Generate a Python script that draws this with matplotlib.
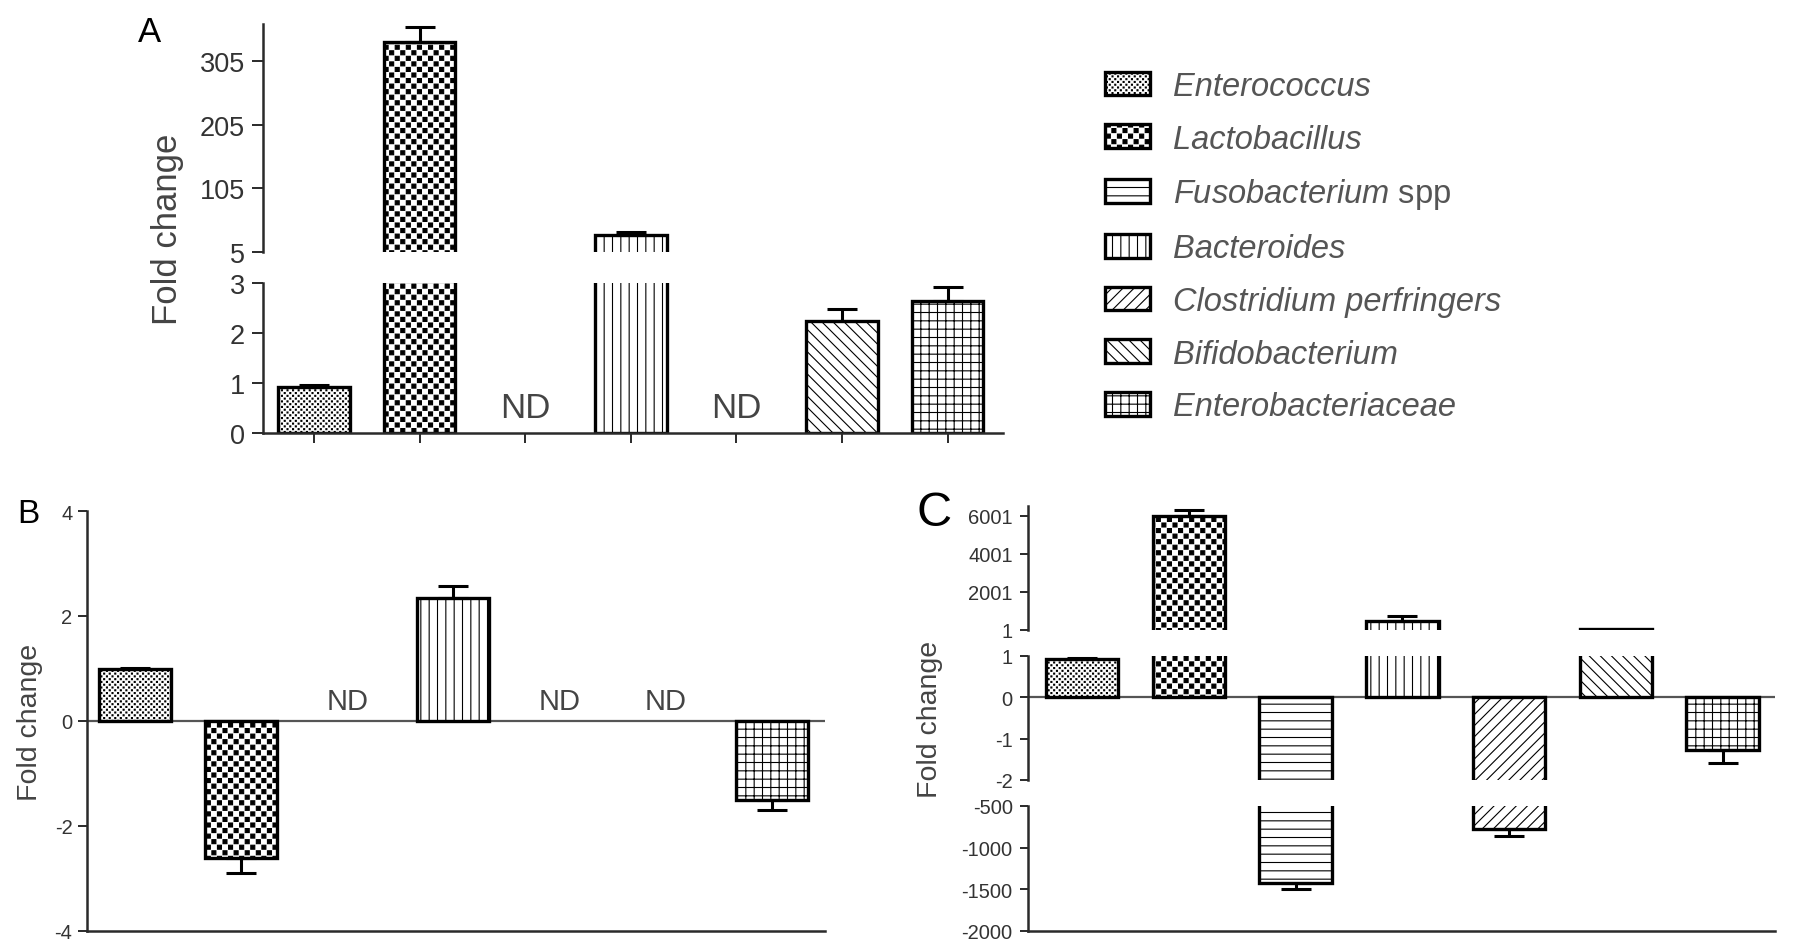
import numpy as np
import matplotlib
matplotlib.use("Agg")
import matplotlib.pyplot as plt
import matplotlib.hatch as mhatch
from matplotlib.path import Path

# ---------------- data ----------------
categories = ["Enterococcus", "Lactobacillus", "Fusobacterium spp", "Bacteroides",
              "Clostridium perfringers", "Bifidobacterium", "Enterobacteriaceae"]
legend_labels = ["Enterococcus", "Lactobacillus", r"Fusobacterium $\mathrm{spp}$", "Bacteroides",
                 "Clostridium perfringers", "Bifidobacterium", "Enterobacteriaceae"]
hatches = ["......", "...", "--", "||", "///", "\\\\\\", "++"]

a_values = [0.92, 335, np.nan, 32, np.nan, 2.24, 2.64]
a_errors = [0.05, 23, np.nan, 4, np.nan, 0.25, 0.28]

b_values = [1.0, -2.6, np.nan, 2.35, np.nan, np.nan, -1.5]
b_errors = [0.01, 0.30, np.nan, 0.23, np.nan, np.nan, 0.20]

c_values = [0.92, 6000, -1420, 460, -780, 30, -1.28]
c_errors = [0.03, 300, 80, 300, 80, 0, 0.32]

a_upper_ticks = [5, 105, 205, 305]
a_lower_ticks = [0, 1, 2, 3]
b_ticks = [-4, -2, 0, 2, 4]
c_upper_ticks = [1, 2001, 4001, 6001]
c_mid_ticks = [-2, -1, 0, 1]
c_lower_ticks = [-2000, -1500, -1000, -500]

# ---------------- style ----------------
plt.rcParams["font.family"] = ["Liberation Sans", "DejaVu Sans"]
plt.rcParams["mathtext.fontset"] = "custom"
plt.rcParams["mathtext.rm"] = "Liberation Sans"
plt.rcParams["mathtext.it"] = "Liberation Sans:italic"
plt.rcParams["hatch.color"] = "black"
HATCH_LW = 0.8
plt.rcParams["hatch.linewidth"] = HATCH_LW


class CheckerHatch(mhatch.HatchPatternBase):
    """Checkerboard of filled squares, density set by the number of '.'."""

    def __init__(self, hatch, density):
        n = int(hatch.count(".") * density)
        if n % 2:
            n += 1
        self.n = n
        self.cells = [(i, j) for i in range(n) for j in range(n) if (i + j) % 2 == 0]
        self.num_vertices = len(self.cells) * 5

    def set_vertices_and_codes(self, vertices, codes):
        s = 1.0 / self.n
        extra = 0.12 if self.n > 24 else 0.04
        inset = min(HATCH_LW / 72.0 / 2.0 + extra * s, s * 0.4)
        k = 0
        for i, j in self.cells:
            x0, y0 = i * s + inset, j * s + inset
            x1, y1 = (i + 1) * s - inset, (j + 1) * s - inset
            vertices[k:k + 5] = [(x0, y0), (x1, y0), (x1, y1), (x0, y1), (x0, y0)]
            codes[k:k + 5] = [Path.MOVETO, Path.LINETO, Path.LINETO, Path.LINETO,
                              Path.CLOSEPOLY]
            k += 5


mhatch._hatch_types = [CheckerHatch if t is mhatch.SmallFilledCircles else t
                       for t in mhatch._hatch_types]

W, H = 1795, 953
fig = plt.figure(figsize=(W / 100, H / 100), dpi=100)

SPINE = "#2a2a2a"
TICKC = "#333333"
BAR_W = 0.68


def make_ax(rect, xlim, ylim, yticks, spines, labelsize, ticklen, pad, xticks=False):
    ax = fig.add_axes(rect)
    ax.set_xlim(*xlim)
    ax.set_ylim(*ylim)
    ax.set_yticks(yticks)
    ax.set_yticklabels([str(t) for t in yticks])
    for s in ["left", "right", "top", "bottom"]:
        ax.spines[s].set_visible(s in spines)
        ax.spines[s].set_color(SPINE)
        ax.spines[s].set_linewidth(1.8)
    ax.tick_params(axis="y", labelsize=labelsize, length=ticklen, width=1.4,
                   pad=pad, colors=SPINE, labelcolor=TICKC)
    if xticks:
        ax.set_xticks(range(len(categories)))
        ax.set_xticklabels([])
        ax.tick_params(axis="x", length=7, width=1.4, colors=SPINE)
    else:
        ax.set_xticks([])
    ax.patch.set_alpha(0)
    return ax


def draw_bars(ax, values, errors):
    """Draw the bars of one segment of a (possibly broken) axis."""
    lo, hi = ax.get_ylim()
    pad = 0.05 * (hi - lo)
    vals = np.array(values, dtype=float)
    errs = np.array(errors, dtype=float)
    rects = [None] * len(categories)
    ex, ev, elo, eup = [], [], [], []
    for i in range(len(categories)):
        v = vals[i]
        if np.isnan(v):
            continue
        a, b = min(0.0, v), max(0.0, v)
        if b <= lo or a >= hi:
            continue  # nothing of this bar in this segment
        base = 0.0 if lo <= 0 <= hi else (lo - pad if lo > 0 else hi + pad)
        top = v if lo <= v <= hi else (hi + pad if v > hi else lo - pad)
        r = ax.bar(i, top - base, bottom=base, width=BAR_W, color="white",
                   edgecolor="black", linewidth=2.4, hatch=hatches[i], zorder=2)
        rects[i] = r[0]
        if lo <= v <= hi and errs[i] > 0:
            ex.append(i)
            ev.append(v)
            eup.append(errs[i] if v > 0 else 0)
            elo.append(errs[i] if v < 0 else 0)
    if ex:
        ax.errorbar(ex, ev, yerr=[elo, eup], fmt="none", ecolor="black",
                    elinewidth=2.2, capsize=11, capthick=2.2, zorder=3)
    return rects


def nd_labels(ax, values, y, size):
    for i, v in enumerate(values):
        if np.isnan(v):
            ax.text(i, y, "ND", ha="center", va="center", fontsize=size, color="#444444")


# ---------------- panel A ----------------
a_xlim = (-0.483, 6.525)
axA_up = make_ax([263 / W, 1 - 253 / H, 740 / W, 228 / H], a_xlim, (5, 363),
                 a_upper_ticks, ["left"], 19.5, 8, 5)
axA_lo = make_ax([263 / W, 1 - 434 / H, 740 / W, 150 / H], a_xlim, (0, 3),
                 a_lower_ticks, ["left", "bottom"], 19.5, 8, 5, xticks=True)
draw_bars(axA_up, a_values, a_errors)
draw_bars(axA_lo, a_values, a_errors)
nd_labels(axA_lo, a_values, 0.5, 25)

# ---------------- panel B ----------------
axB = make_ax([87 / W, 1 - 932 / H, 738 / W, 420 / H], (-0.45, 6.5), (-4, 4),
              b_ticks, ["left", "bottom"], 14.5, 6.5, 4)
axB.axhline(0, color="#555555", lw=1.6, zorder=1)
draw_bars(axB, b_values, b_errors)
nd_labels(axB, b_values, 0.38, 21)

# ---------------- panel C ----------------
c_xlim = (-0.506, 6.49)
axC_up = make_ax([1028 / W, 1 - 631 / H, 747 / W, 124 / H], c_xlim, (1, 6527),
                 c_upper_ticks, ["left"], 14.5, 6, 5)
axC_mid = make_ax([1028 / W, 1 - 781 / H, 747 / W, 124 / H], c_xlim, (-2, 1),
                  c_mid_ticks, ["left"], 14.5, 6, 5)
axC_lo = make_ax([1028 / W, 1 - 932 / H, 747 / W, 125 / H], c_xlim, (-2000, -500),
                 c_lower_ticks, ["left", "bottom"], 14.5, 6, 5)
axC_mid.axhline(0, color="#555555", lw=1.6, zorder=1)
draw_bars(axC_up, c_values, c_errors)
handles = draw_bars(axC_mid, c_values, c_errors)
draw_bars(axC_lo, c_values, c_errors)

# ---------------- labels ----------------
fig.text(150 / W, 1 - 33 / H, "A", fontsize=25, ha="center", va="center")
fig.text(28 / W, 1 - 515 / H, "B", fontsize=24, ha="center", va="center")
fig.text(934 / W, 1 - 514 / H, "C", fontsize=35, ha="center", va="center")

fig.text(167 / W, 1 - 229 / H, "Fold change", fontsize=25, rotation=90,
         ha="center", va="center", color="#444444")
fig.text(30 / W, 1 - 722 / H, "Fold change", fontsize=20.5, rotation=90,
         ha="center", va="center", color="#444444")
fig.text(930 / W, 1 - 719 / H, "Fold change", fontsize=20.5, rotation=90,
         ha="center", va="center", color="#444444")

# ---------------- legend ----------------
leg = fig.legend(handles=handles, labels=legend_labels, loc="upper left",
                 bbox_to_anchor=(1105 / W, 1 - 72 / H), frameon=False,
                 borderaxespad=0, borderpad=0, handlelength=1.38, handleheight=0.74,
                 handletextpad=0.7, labelspacing=0.665,
                 prop={"size": 23.5, "style": "italic"})
for t in leg.get_texts():
    t.set_color("#555555")

fig.savefig("out.png", dpi=100)
